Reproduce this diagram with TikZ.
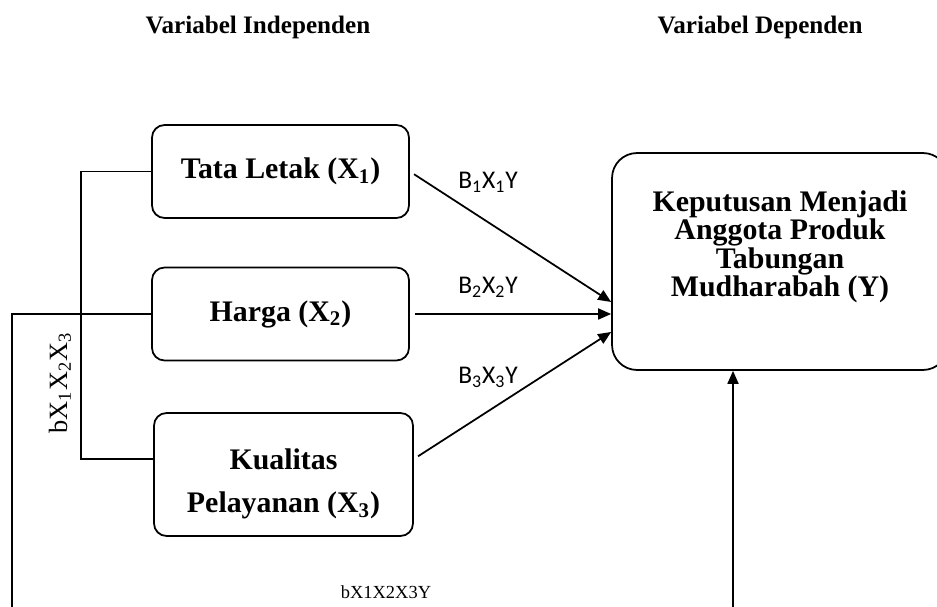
\documentclass[tikz,border=0pt]{standalone}
\usepackage{fontspec}
\setmainfont{Liberation Serif}
\newfontfamily\carlito{Carlito}
\usetikzlibrary{arrows.meta, positioning}
\tikzset{
    varbox/.style={rectangle, draw, line width=1pt, rounded corners=0.25cm, align=center, minimum width=5.14cm, minimum height=1.86cm, font=\fontsize{17}{24.4}\selectfont\bfseries},
    depbox/.style={rectangle, draw, line width=1pt, rounded corners=0.5cm, minimum width=6.72cm, minimum height=4.34cm},
    boxtext/.style={align=center, font=\fontsize{17}{24.4}\selectfont\bfseries},
    deptext/.style={align=center, font=\fontsize{17}{16.2}\selectfont\bfseries},
    title/.style={font=\fontsize{14.3}{16}\selectfont\bfseries},
    coef/.style={font=\carlito\fontsize{14.5}{16}\selectfont},
    link/.style={line width=1pt},
    arrow/.style={line width=1pt, shorten <=0.1cm, -{Triangle[length=0.26cm, width=0.22cm]}}
}

\begin{document}
\begin{tikzpicture}[x=0.02cm, y=-0.02cm]
    \clip (0,0) rectangle (937,607);

    % headings
    \node[title] (tind) at (258,27) {Variabel Independen};
    \node[title] (tdep) at (760,27) {Variabel Dependen};

    % variables
    \node[varbox] (b1) at (280.5,171.5) {Tata Letak (X\textsubscript{1})};
    \node[varbox] (b2) at (280.5,314) {Harga (X\textsubscript{2})};
    \node[varbox, minimum width=5.18cm, minimum height=2.46cm] (b3) at (283.5,474.5) {};
    \node[boxtext] (b3txt) at (283.5,484) {Kualitas\\Pelayanan (X\textsubscript{3})};
    \node[depbox] (Y) at (780,261.5) {};
    \node[deptext] (ytxt) at (780,247) {Keputusan Menjadi\\Anggota Produk\\Tabungan\\Mudharabah (Y)};

    % paths
    \draw[arrow] (b1.east) -- ([yshift=-0.81cm]Y.west);
    \draw[arrow] (b2.east) -- (b2.east -| Y.west);
    \draw[arrow] ([yshift=0.31cm]b3.east) -- ([yshift=-1.41cm]Y.west);

    \node[coef] (c1) at (488,182) {B\textsubscript{1}X\textsubscript{1}Y};
    \node[coef] (c2) at (488,287) {B\textsubscript{2}X\textsubscript{2}Y};
    \node[coef] (c3) at (488,377) {B\textsubscript{3}X\textsubscript{3}Y};

    % joint effect
    \draw[link] (b1.west) -- ++(-70,0) |- ([yshift=0.31cm]b3.west);
    \node[rotate=90, font=\fontsize{15}{17}\selectfont] (bx) at (60,383) {bX\textsubscript{1}X\textsubscript{2}X\textsubscript{3}};

    \coordinate (bl) at (12,620);
    \coordinate (br) at (733,620);
    \draw[link] (b2.west) -| (bl);
    \draw[arrow] (br) -- (br |- Y.south);
    \node[font=\fontsize{10.5}{12}\selectfont] (bxy) at (386,592) {bX1X2X3Y};
\end{tikzpicture}
\end{document}
